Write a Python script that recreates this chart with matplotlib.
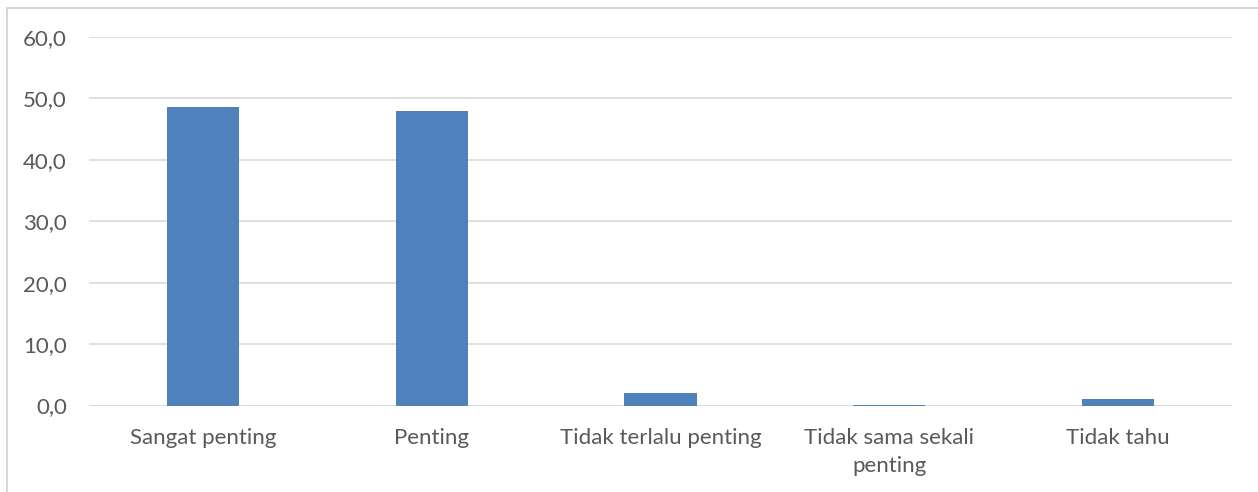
import matplotlib
matplotlib.use("Agg")
import matplotlib.pyplot as plt
from matplotlib.patches import Rectangle

categories = ["Sangat penting", "Penting", "Tidak terlalu penting", "Tidak sama sekali\npenting", "Tidak tahu"]
values = [48.6, 47.9, 2.0, 0.1, 1.1]
yticks = [0, 10, 20, 30, 40, 50, 60]
ytick_labels = ["0,0", "10,0", "20,0", "30,0", "40,0", "50,0", "60,0"]

W, H = 1258, 492
fig = plt.figure(figsize=(W / 100, H / 100), dpi=100)
plt.rcParams['font.family'] = ['Lato', 'DejaVu Sans']

# outer chart border
fig.patches.append(Rectangle((7 / W, -0.1), 1.2, (H - 8) / H + 0.1, transform=fig.transFigure,
                             fill=False, edgecolor="#d0d0d0", linewidth=1.2))

ax = fig.add_axes([89 / W, 1 - 405.5 / H, (1232 - 89) / W, (405.5 - 37) / H])
x = list(range(len(categories)))
ax.bar(x, values, width=0.315, color="#4f81bd", zorder=3)
ax.set_xlim(-0.5, len(categories) - 0.5)
ax.set_ylim(0, 60)
ax.set_yticks(yticks)
ax.set_yticklabels(ytick_labels)
ax.set_xticks(x)
ax.set_xticklabels(categories, linespacing=1.5)
for s in ax.spines.values():
    s.set_visible(False)
ax.grid(axis="y", color="#d9d9d9", linewidth=1.2, zorder=0)
ax.axhline(0, color="#d9d9d9", linewidth=1.2, zorder=2)
ax.tick_params(axis="both", length=0, labelsize=16, colors="#595959")
ax.tick_params(axis="y", pad=16)
ax.tick_params(axis="x", pad=16)
ax.set_facecolor("none")

fig.savefig("out.png", dpi=100)
